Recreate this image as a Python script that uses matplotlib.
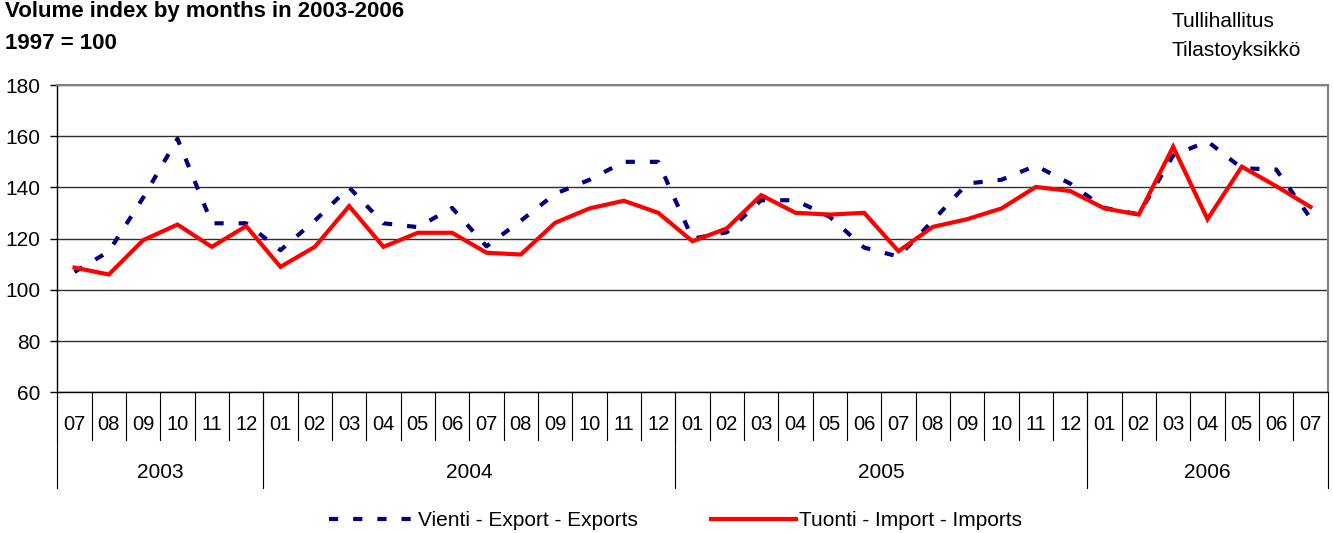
import numpy as np
import matplotlib.pyplot as plt
import matplotlib.transforms as mtransforms

plt.rcParams['font.family'] = ['Liberation Sans', 'DejaVu Sans']

months = ["07", "08", "09", "10", "11", "12",
          "01", "02", "03", "04", "05", "06", "07", "08", "09", "10", "11", "12",
          "01", "02", "03", "04", "05", "06", "07", "08", "09", "10", "11", "12",
          "01", "02", "03", "04", "05", "06", "07"]
years = ["2003", "2004", "2005", "2006"]
year_lengths = [6, 12, 12, 7]

exports = [107, 115, 136, 159, 126, 126,
           115.5, 127, 140, 126, 124.5, 132, 117, 127, 137.5, 143, 150, 150,
           120, 122.5, 135, 135, 128.5, 116.5, 113, 127, 141.5, 143, 148.5, 141.5,
           132, 129.5, 152.5, 158, 147.5, 147, 128]
imports = [108.7, 106, 119.4, 125.5, 116.8, 124.9,
           109, 116.8, 132.7, 116.8, 122.3, 122.3, 114.5, 113.8, 126.2, 131.8, 134.8, 130.1,
           119, 124, 137, 130.1, 129.4, 130.1, 115.1, 124.6, 127.6, 131.8, 140.2, 138.6,
           131.8, 129.4, 155.9, 127.6, 148.1, 140.5, 132.4]

fig = plt.figure(figsize=(13.33, 5.33), dpi=100)
ax = fig.add_axes([0.043, 0.264, 0.953, 0.5765])

x = np.arange(len(months))
ax.plot(x, exports, color="#000080", lw=3, linestyle=(0, (2.2, 3.6)),
        label="Vienti - Export - Exports", zorder=3)
ax.plot(x, imports, color="#ff0000", lw=3, solid_joinstyle="miter",
        label="Tuonti - Import - Imports", zorder=4)

ax.set_xlim(-0.5, len(months) - 0.5)
ax.set_ylim(60, 180)
ax.set_yticks(range(60, 181, 20))
ax.yaxis.grid(True, color="#303030", lw=1)
ax.set_axisbelow(True)
ax.tick_params(axis="y", length=5, width=1, pad=7, labelsize=15)
ax.set_xticks([])

for side in ("top", "right"):
    ax.spines[side].set_color("#808080")
    ax.spines[side].set_linewidth(1.5)
for side in ("left", "bottom"):
    ax.spines[side].set_color("black")
    ax.spines[side].set_linewidth(1)

# two-level category axis: month cells and year groups
trans = mtransforms.blended_transform_factory(ax.transData, ax.transAxes)
month_depth = -0.156
year_depth = -0.3125
for i, m in enumerate(months):
    ax.text(i, -0.1227, m, transform=trans, ha="center", va="baseline", fontsize=14.5)
    ax.plot([i - 0.5, i - 0.5], [0, month_depth], transform=trans, color="black",
            lw=0.8, clip_on=False)

start = -0.5
for yr, n in zip(years, year_lengths):
    ax.plot([start, start], [0, year_depth], transform=trans, color="black",
            lw=0.8, clip_on=False)
    ax.text(start + n / 2, -0.28, yr, transform=trans, ha="center", va="baseline",
            fontsize=15)
    start += n
ax.plot([start, start], [0, year_depth], transform=trans, color="black",
        lw=0.8, clip_on=False)

fig.text(0.004, 0.9675, "Volume index by months in 2003-2006", fontsize=16,
         fontweight="bold", va="baseline", ha="left")
fig.text(0.004, 0.909, "1997 = 100", fontsize=16, fontweight="bold",
         va="baseline", ha="left")
fig.text(0.879, 0.95, "Tullihallitus", fontsize=15, va="baseline", ha="left")
fig.text(0.879, 0.894, "Tilastoyksikkö", fontsize=15, va="baseline", ha="left")

fig.legend(loc="center", bbox_to_anchor=(0.507, 0.023), ncol=2, frameon=False,
           fontsize=15, handlelength=4.1, handletextpad=0.15, columnspacing=3.5)

fig.savefig("out.png", dpi=100)
